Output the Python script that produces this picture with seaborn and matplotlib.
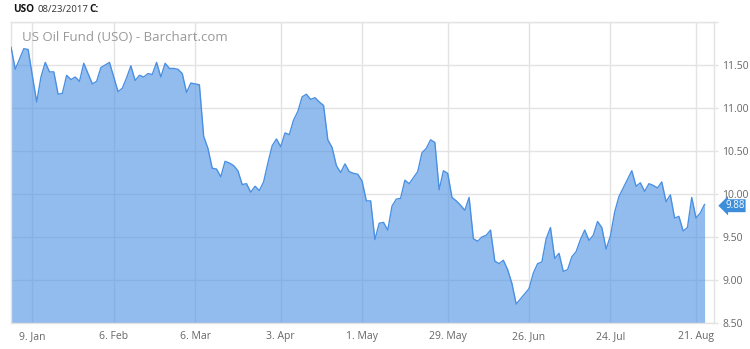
import numpy as np
import pandas as pd
import matplotlib
matplotlib.use("Agg")
import matplotlib.pyplot as plt
import seaborn as sns

# ---- data ----
prices = [
    11.71, 11.45, 11.57, 11.69, 11.68, 11.37, 11.07, 11.36, 11.53, 11.42,
    11.42, 11.16, 11.17, 11.38, 11.33, 11.36, 11.31, 11.52, 11.40, 11.28,
    11.31, 11.47, 11.50, 11.53, 11.36, 11.19, 11.23, 11.35, 11.49, 11.32,
    11.38, 11.36, 11.40, 11.39, 11.53, 11.36, 11.52, 11.46, 11.46, 11.45,
    11.40, 11.18, 11.29, 11.28, 11.27, 10.67, 10.53, 10.30, 10.29, 10.20,
    10.38, 10.36, 10.33, 10.27, 10.11, 10.12, 10.02, 10.09, 10.04, 10.14,
    10.36, 10.56, 10.64, 10.55, 10.71, 10.69, 10.86, 10.96, 11.13, 11.16,
    11.10, 11.12, 11.07, 11.03, 10.63, 10.54, 10.33, 10.25, 10.35, 10.26,
    10.24, 10.23, 10.15, 9.92, 9.92, 9.47, 9.66, 9.67, 9.58, 9.86,
    9.94, 9.95, 10.16, 10.12, 10.19, 10.26, 10.48, 10.53, 10.63, 10.60,
    10.05, 10.27, 10.24, 9.96, 9.92, 9.87, 9.81, 9.96, 9.48, 9.45,
    9.50, 9.52, 9.58, 9.22, 9.19, 9.23, 9.12, 8.96, 8.72, 8.78,
    8.84, 8.90, 9.08, 9.19, 9.21, 9.48, 9.61, 9.25, 9.31, 9.10,
    9.12, 9.27, 9.33, 9.47, 9.58, 9.46, 9.52, 9.68, 9.61, 9.36,
    9.51, 9.79, 9.97, 10.07, 10.17, 10.27, 10.09, 10.13, 10.03, 10.12,
    10.10, 10.07, 10.14, 9.91, 9.99, 9.72, 9.74, 9.57, 9.61, 9.96,
    9.72, 9.78, 9.88,
]
start_date = "2016-12-30"
holidays = ["2017-01-02", "2017-01-16", "2017-02-20", "2017-04-14",
            "2017-05-29", "2017-07-04"]
tick_dates = ["2017-01-09", "2017-02-06", "2017-03-06", "2017-04-03",
              "2017-05-01", "2017-05-29", "2017-06-26", "2017-07-24",
              "2017-08-21"]
tick_labels = ["9. Jan", "6. Feb", "6. Mar", "3. Apr", "1. May",
               "29. May", "26. Jun", "24. Jul", "21. Aug"]
y_ticks = [8.5, 9.0, 9.5, 10.0, 10.5, 11.0, 11.5]
y_min, y_max = 8.5, 12.0
symbol = "USO"
date_str = "08/23/2017"
chart_title = "US Oil Fund (USO) - Barchart.com"

# ---- build table ----
dates = pd.bdate_range(start=start_date, periods=len(prices), freq="C",
                       holidays=holidays)
df = pd.DataFrame({"date": dates, "price": prices})
df["pos"] = np.arange(len(df))
tick_pos = np.searchsorted(df["date"].values,
                           pd.to_datetime(tick_dates).values)

sns.set_theme(style="white")
plt.rcParams["font.family"] = ["Open Sans", "DejaVu Sans"]

line_color = "#4a90e2"
grid_color = "#e3e3e3"

fig = plt.figure(figsize=(7.5, 3.49), dpi=100)
ax = fig.add_axes([11 / 750, 1 - 323 / 349, (714 - 11) / 750, (323 - 22) / 349])

ax.set_axisbelow(True)
ax.grid(True, color=grid_color, linewidth=1.0)

ax.fill_between(df["pos"], df["price"], y_min, color=line_color,
                alpha=0.6, linewidth=0, zorder=2)
sns.lineplot(data=df, x="pos", y="price", ax=ax, color=line_color,
             linewidth=1.0, zorder=3)

ax.set_xlim(0, 164.2)
ax.set_ylim(y_min, y_max)
ax.set_xticks(tick_pos)
ax.set_xticklabels(tick_labels)
ax.set_yticks(y_ticks + [y_max])
ax.set_yticklabels([f"{v:.2f}" for v in y_ticks] + [""])
ax.yaxis.tick_right()
ax.set_xlabel("")
ax.set_ylabel("")
ax.tick_params(axis="x", length=0, pad=6, labelsize=7.5, labelcolor="#666666")
ax.tick_params(axis="y", right=True, length=3, width=1, color=grid_color,
               pad=3, labelsize=7.5, labelcolor="#666666")
for sp in ax.spines.values():
    sp.set_color(grid_color)
    sp.set_linewidth(1.0)

# title in chart
ax.text(0.016, 0.948, chart_title, transform=ax.transAxes, fontsize=9.5,
        color="#999999", va="center", ha="left", zorder=5)

# header
fig.text(13 / 750, 1 - 10 / 349, symbol, fontsize=7.2, fontweight="bold",
         color="#111111", va="center", ha="left")
fig.text(37 / 750, 1 - 10 / 349, date_str, fontsize=6.8, color="#333333",
         va="center", ha="left")
fig.text(89 / 750, 1 - 10 / 349, "C:", fontsize=7.2, fontweight="bold",
         color="#111111", va="center", ha="left")

# last value tag
last = df["price"].iloc[-1]
ax.annotate(f"{last:.2f}", xy=(1.0, last), xycoords=("axes fraction", "data"),
            xytext=(8, -1), textcoords="offset points", fontsize=7,
            color="white", va="center", ha="left",
            bbox=dict(boxstyle="larrow,pad=0.1", fc="#3d8ddb", ec="none"),
            annotation_clip=False, zorder=6)

fig.savefig("out.png", dpi=100)
